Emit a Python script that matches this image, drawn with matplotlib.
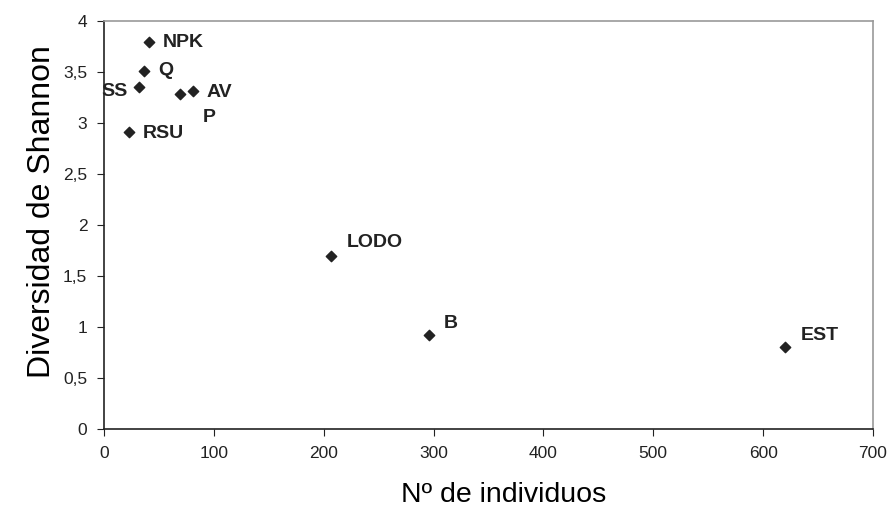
import matplotlib
matplotlib.use('Agg')
import matplotlib.pyplot as plt

plt.rcParams['font.family'] = ['Liberation Sans', 'DejaVu Sans']

# Data
labels = ['NPK', 'Q', 'SS', 'P', 'AV', 'RSU', 'LODO', 'B', 'EST']
individuos = [41, 36, 32, 69, 81, 23, 207, 296, 620]
shannon = [3.79, 3.51, 3.35, 3.28, 3.31, 2.91, 1.70, 0.92, 0.80]
# label offsets in pixels (dx, dy)
offsets = {'NPK': (14, 0), 'Q': (15, 0), 'SS': (-12, -4), 'P': (23, -23),
           'AV': (14, -1), 'RSU': (13, -1), 'LODO': (15, 13), 'B': (15, 12),
           'EST': (16, 12)}

fig = plt.figure(figsize=(8.92, 5.18), dpi=100)
ax = fig.add_axes([0.1166, 0.1718, 0.8621, 0.7877])

ax.scatter(individuos, shannon, marker='D', s=28, color='#222222', zorder=3)
for lab, x, y in zip(labels, individuos, shannon):
    dx, dy = offsets[lab]
    ax.annotate(lab, (x, y), xytext=(dx, dy), textcoords='offset pixels',
                fontsize=14, fontweight='bold', color='#222222', va='center',
                ha='right' if dx < 0 else 'left')

ax.set_xlim(0, 700)
ax.set_ylim(0, 4)
ax.set_xticks(range(0, 701, 100))
ax.set_yticks([0, 0.5, 1, 1.5, 2, 2.5, 3, 3.5, 4])
ax.set_yticklabels(['0', '0,5', '1', '1,5', '2', '2,5', '3', '3,5', '4'])
ax.tick_params(direction='out', length=5, labelsize=12.5, colors='#222222', pad=7)

for side in ['left', 'bottom']:
    ax.spines[side].set_color('#222222')
    ax.spines[side].set_linewidth(1.2)
for side in ['top', 'right']:
    ax.spines[side].set_color('#999999')
    ax.spines[side].set_linewidth(1.2)

ax.set_xlabel('Nº de individuos', fontsize=20.5)
ax.set_ylabel('Diversidad de Shannon', fontsize=23)
ax.xaxis.set_label_coords(0.52, -0.13)
ax.yaxis.set_label_coords(-0.061, 0.532)

fig.savefig('out.png', dpi=100)
